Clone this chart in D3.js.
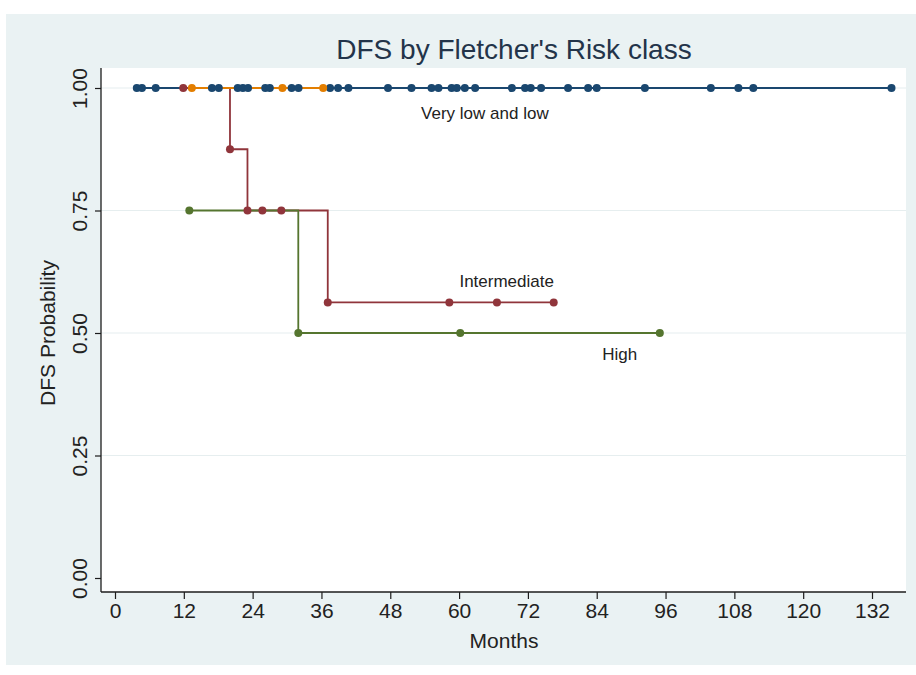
<!DOCTYPE html>
<html>
<head>
<meta charset="utf-8">
<script src="https://cdn.jsdelivr.net/npm/d3@7"></script>
<style>
  body { margin: 0; background: #fff; }
  svg text { font-family: "Liberation Sans", Arial, sans-serif; }
</style>
</head>
<body>
<div id="chart"></div>
<script>
// x ticks / y ticks
const xTicks = [0, 12, 24, 36, 48, 60, 72, 84, 96, 108, 120, 132];
const yTicks = [0, 0.25, 0.5, 0.75, 1];

// Very low (navy): no events, censored times at S = 1
const navyCurve = [[3.8, 1], [135.4, 1]];
const navyCensor = [3.8, 4.7, 7.1, 16.9, 18.1, 21.4, 22.3, 23.2, 26.2, 27.0, 30.8, 32.0,
  37.5, 38.9, 40.7, 47.6, 51.7, 55.2, 56.4, 58.7, 59.6, 61.0, 62.8, 69.2, 71.5, 72.5,
  74.3, 79.0, 82.5, 84.0, 92.4, 103.9, 108.7, 111.3, 135.4];

// Low (orange): no events
const orangeCurve = [[12.9, 1], [37.5, 1]];
const orangeCensor = [13.4, 29.2, 36.3];

// Intermediate (maroon)
const redCurve = [[11.9, 1], [20.05, 0.875], [23.1, 0.75], [37.1, 0.5625], [76.5, 0.5625]];
const redCensorT = [11.9, 20.05, 23.1, 25.7, 29.0, 37.1, 58.3, 66.6, 76.5];
const redCensorS = [1, 0.875, 0.75, 0.75, 0.75, 0.5625, 0.5625, 0.5625, 0.5625];

// High (green)
const greenCurve = [[12.96, 0.75], [31.96, 0.5], [95.0, 0.5]];
const greenCensorT = [12.96, 31.96, 60.2, 95.0];
const greenCensorS = [0.75, 0.5, 0.5, 0.5];

const curveLabels = [
  { text: "Very low and low", t: 64.5, s: 0.948 },
  { text: "Intermediate", t: 68.3, s: 0.606 },
  { text: "High", t: 88.0, s: 0.457 }
];

const width = 916, height = 675;
const svg = d3.select('#chart').append('svg')
  .attr('width', width)
  .attr('height', height);

// outer background
svg.append('rect')
  .attr('x', 6).attr('y', 14)
  .attr('width', width - 6).attr('height', 651)
  .attr('fill', '#eaf2f3');

// plot region
const plot = { left: 101, right: 906, top: 68, bottom: 592 };
svg.append('rect')
  .attr('x', plot.left).attr('y', plot.top)
  .attr('width', plot.right - plot.left).attr('height', plot.bottom - plot.top)
  .attr('fill', '#ffffff');

const x = d3.scaleLinear().domain([0, 132]).range([115, 872]);
const y = d3.scaleLinear().domain([0, 1]).range([578, 88]);

// gridlines
svg.append('g')
  .selectAll('line')
  .data(yTicks.filter(d => d > 0))
  .join('line')
  .attr('x1', plot.left).attr('x2', plot.right)
  .attr('y1', d => y(d)).attr('y2', d => y(d))
  .attr('stroke', '#e6eeef')
  .attr('stroke-width', 1.2);

// axes
const xAxis = d3.axisBottom(x).tickValues(xTicks).tickSize(7).tickPadding(4).tickFormat(d3.format('d'));
const gx = svg.append('g').attr('transform', `translate(0,${plot.bottom})`).call(xAxis);
gx.select('.domain').remove();
gx.append('line')
  .attr('x1', plot.left).attr('x2', plot.right)
  .attr('stroke', '#1c1c1c').attr('stroke-width', 1.3);
gx.selectAll('.tick line').attr('stroke', '#1c1c1c').attr('stroke-width', 1.2);
gx.selectAll('.tick text').attr('font-size', 21).attr('fill', '#222');

const yAxis = d3.axisLeft(y).tickValues(yTicks).tickSize(6).tickFormat(d3.format('.2f'));
const gy = svg.append('g').attr('transform', `translate(${plot.left},0)`).call(yAxis);
gy.select('.domain').remove();
gy.append('line')
  .attr('y1', plot.top).attr('y2', plot.bottom)
  .attr('stroke', '#1c1c1c').attr('stroke-width', 1.3);
gy.selectAll('.tick line').attr('stroke', '#1c1c1c').attr('stroke-width', 1.2);
gy.selectAll('.tick text')
  .attr('font-size', 21).attr('fill', '#222')
  .attr('x', null).attr('dy', null)
  .attr('text-anchor', 'middle')
  .attr('transform', 'translate(-21,0) rotate(-90)')
  .attr('y', 0).attr('dy', '0.35em');

// titles
svg.append('text')
  .attr('x', 514).attr('y', 59)
  .attr('text-anchor', 'middle')
  .attr('font-size', 28)
  .attr('fill', '#23344a')
  .text("DFS by Fletcher's Risk class");

svg.append('text')
  .attr('x', 504).attr('y', 648)
  .attr('text-anchor', 'middle')
  .attr('font-size', 21)
  .attr('fill', '#222')
  .text('Months');

svg.append('text')
  .attr('transform', 'translate(55,333) rotate(-90)')
  .attr('text-anchor', 'middle')
  .attr('font-size', 21)
  .attr('fill', '#222')
  .text('DFS Probability');

// survival curves
const line = d3.line()
  .x(d => x(d[0]))
  .y(d => y(d[1]))
  .curve(d3.curveStepAfter);

const curves = [
  { pts: navyCurve, color: '#1a476f' },
  { pts: redCurve, color: '#90353b' },
  { pts: greenCurve, color: '#55752f' },
  { pts: orangeCurve, color: '#e37e00' }
];

svg.append('g')
  .selectAll('path')
  .data(curves)
  .join('path')
  .attr('d', d => line(d.pts))
  .attr('fill', 'none')
  .attr('stroke', d => d.color)
  .attr('stroke-width', 1.8);

// censor markers
const marks = [];
navyCensor.forEach(t => marks.push({ t: t, s: 1, color: '#1a476f' }));
redCensorT.forEach((t, i) => marks.push({ t: t, s: redCensorS[i], color: '#90353b' }));
greenCensorT.forEach((t, i) => marks.push({ t: t, s: greenCensorS[i], color: '#55752f' }));
orangeCensor.forEach(t => marks.push({ t: t, s: 1, color: '#e37e00' }));

svg.append('g')
  .selectAll('circle')
  .data(marks)
  .join('circle')
  .attr('cx', d => x(d.t))
  .attr('cy', d => y(d.s))
  .attr('r', 4)
  .attr('fill', d => d.color);

// curve labels
svg.append('g')
  .selectAll('text')
  .data(curveLabels)
  .join('text')
  .attr('x', d => x(d.t))
  .attr('y', d => y(d.s))
  .attr('text-anchor', 'middle')
  .attr('dy', '0.35em')
  .attr('font-size', 17)
  .attr('fill', '#222')
  .text(d => d.text);
</script>
</body>
</html>
